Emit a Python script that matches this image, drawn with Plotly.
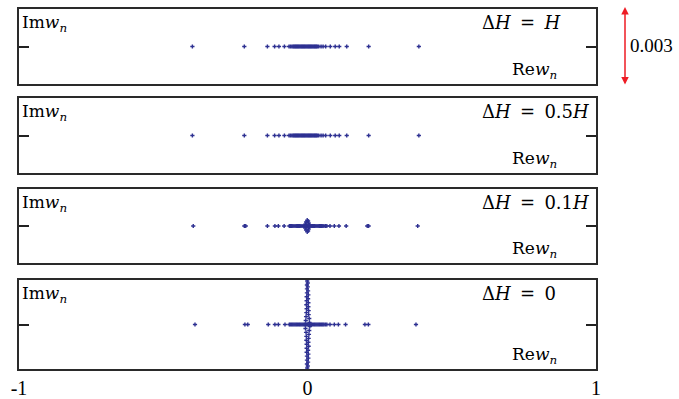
import plotly.graph_objects as go

# ---------------- data ----------------
panel_labels = ["ΔH = H", "ΔH = 0.5H", "ΔH = 0.1H", "ΔH = 0"]
xtick_vals = [-1, 0, 1]
xtick_text = ["-1", "0", "1"]
span_label = "0.003"

# isolated real eigenvalues (Im ~ 0)
re_outer_1 = [-0.399, -0.219, -0.139, -0.114, -0.099, -0.080, -0.064, -0.059, -0.054,
              0.039, 0.047, 0.054, 0.063, 0.079, 0.096, 0.110, 0.136, 0.212, 0.386]
re_outer_2 = [-0.399, -0.219, -0.139, -0.114, -0.099, -0.080, -0.064, -0.059, -0.054,
              0.039, 0.047, 0.054, 0.063, 0.079, 0.096, 0.110, 0.136, 0.212, 0.386]
re_outer_3 = [-0.396, -0.219, -0.214, -0.139, -0.113, -0.101, -0.081,
              0.078, 0.093, 0.109, 0.134, 0.207, 0.212, 0.382]
re_outer_4 = [-0.390, -0.217, -0.207, -0.136, -0.113, -0.101, -0.078,
              0.078, 0.093, 0.107, 0.132, 0.199, 0.211, 0.376]

# dense band near the origin (Im ~ 0)
re_dense_1 = [-0.050, -0.047, -0.044, -0.041, -0.038, -0.035, -0.032, -0.029, -0.026, -0.023,
              -0.020, -0.017, -0.014, -0.011, -0.008, -0.005, -0.002, 0.001, 0.004, 0.007,
              0.010, 0.013, 0.016, 0.019, 0.022, 0.025, 0.028, 0.031, 0.034]
re_dense_2 = [-0.050, -0.047, -0.044, -0.041, -0.038, -0.035, -0.032, -0.029, -0.026, -0.023,
              -0.020, -0.017, -0.014, -0.011, -0.008, -0.005, -0.002, 0.001, 0.004, 0.007,
              0.010, 0.013, 0.016, 0.019, 0.022, 0.025, 0.028, 0.031, 0.034]
re_dense_3 = [-0.063, -0.059, -0.055, -0.051, -0.047, -0.043, -0.039, -0.035, -0.031, -0.027,
              -0.023, -0.019, -0.015, -0.011, -0.007, -0.003, 0.001, 0.005, 0.009, 0.013,
              0.017, 0.021, 0.025, 0.029, 0.033, 0.037, 0.041, 0.045, 0.049, 0.053,
              0.057, 0.062, 0.067]
re_dense_4 = [-0.063, -0.059, -0.055, -0.051, -0.047, -0.043, -0.039, -0.035, -0.031, -0.027,
              -0.023, -0.019, -0.015, -0.011, -0.007, -0.003, 0.001, 0.005, 0.009, 0.013,
              0.017, 0.021, 0.025, 0.029, 0.033, 0.037, 0.041, 0.045, 0.049, 0.053,
              0.057, 0.062, 0.067]

# complex cluster at Re ~ 0 for dH = 0.1H
re_blob_3 = [-0.001, 0.002, -0.005, 0.004, -0.008, 0.006, -0.009, 0.007, -0.007, 0.004,
             -0.005, 0.002, -0.001]
im_blob_3 = [-0.00024, -0.0002, -0.00016, -0.00012, -0.00008, -0.00004, 0.0,
             0.00004, 0.00008, 0.00012, 0.00016, 0.0002, 0.00024]

# vertical cluster at Re ~ 0 for dH = 0
im_line_4 = [-0.00184, -0.00176, -0.00168, -0.0016, -0.00152, -0.00144, -0.00136, -0.00128,
             -0.0012, -0.00112, -0.00104, -0.00096, -0.00088, -0.0008, -0.00072, -0.00064,
             -0.00056, -0.00048, -0.0004, -0.00032, -0.00024, -0.00016, -0.00008, 0.0,
             0.00008, 0.00016, 0.00024, 0.00032, 0.0004, 0.00048, 0.00056, 0.00064,
             0.00072, 0.0008, 0.00088, 0.00096, 0.00104, 0.00112, 0.0012, 0.00128,
             0.00136, 0.00144, 0.00152, 0.0016, 0.00168, 0.00176, 0.00184]
re_line_4 = [0.000, -0.001, 0.001, -0.002, 0.002, -0.002, 0.003, -0.002, 0.003, -0.003,
             0.002, -0.003, 0.004, -0.003, 0.003, -0.004, 0.004, -0.004, 0.005, -0.005,
             0.006, -0.007, 0.008, -0.008, 0.007, -0.006, 0.006, -0.005, 0.004, -0.004,
             0.004, -0.003, 0.003, -0.004, 0.003, -0.003, 0.002, -0.003, 0.003, -0.002,
             0.002, -0.002, 0.001, -0.002, 0.001, -0.001, 0.000]

y_half_range = [0.0015, 0.0015, 0.0015, 0.0018]

# ---------------- figure ----------------
W, H = 679, 399
ML, MR, MT, MB = 19, 83, 9, 30
plot_h = H - MT - MB
pw = W - ML - MR
# panel pixel extents (top, bottom)
panel_px = [(9, 84), (98, 173), (189, 263), (280, 369)]
domains = [[(H - MB - b) / plot_h, (H - MB - t) / plot_h] for (t, b) in panel_px]

DOT = "#2e3192"
FONT = "DejaVu Serif"
NUMFONT = "Liberation Serif"
FS = 17

fig = go.Figure()

panels = [
    (re_outer_1 + re_dense_1, [0.0] * (len(re_outer_1) + len(re_dense_1))),
    (re_outer_2 + re_dense_2, [0.0] * (len(re_outer_2) + len(re_dense_2))),
    (re_outer_3 + re_dense_3 + re_blob_3,
     [0.0] * (len(re_outer_3) + len(re_dense_3)) + im_blob_3),
    (re_outer_4 + re_dense_4 + re_line_4,
     [0.0] * (len(re_outer_4) + len(re_dense_4)) + im_line_4),
]

for i, (xs, ys) in enumerate(panels):
    k = "" if i == 0 else str(i + 1)
    fig.add_trace(go.Scatter(
        x=xs, y=ys, mode="markers", xaxis="x" + k, yaxis="y" + k,
        marker=dict(symbol="cross", size=3.5, color=DOT, line=dict(width=0)),
        showlegend=False, hoverinfo="skip", cliponaxis=True,
    ))

layout = dict(
    width=W, height=H,
    margin=dict(l=ML, r=MR, t=MT, b=MB, autoexpand=False),
    plot_bgcolor="white", paper_bgcolor="white",
    font=dict(family=FONT, size=FS, color="black"),
    showlegend=False,
)

annotations = []
for i in range(4):
    k = "" if i == 0 else str(i + 1)
    xa = dict(
        range=[-1, 1], domain=[0, 1], showgrid=False, zeroline=False,
        showline=True, mirror=True, linecolor="#2a2a2a", linewidth=1.5,
        ticks="", fixedrange=True, automargin=False,
        tickvals=xtick_vals, ticktext=xtick_text,
        showticklabels=(i == 3),
        tickfont=dict(family=NUMFONT, size=20, color="black"),
    )
    if i > 0:
        xa["anchor"] = "y" + k
        xa["matches"] = "x"
    else:
        xa["anchor"] = "y"
    hr = y_half_range[i]
    ya = dict(
        range=[-hr, hr], domain=domains[i], anchor="x" + k,
        showgrid=False, zeroline=False, automargin=False,
        showline=True, mirror="ticks", linecolor="#2a2a2a", linewidth=1.5,
        ticks="inside", ticklen=10, tickwidth=1.5, tickcolor="#222222",
        tickvals=[-hr, 0, hr], showticklabels=False, fixedrange=True,
    )
    layout["xaxis" + k] = xa
    layout["yaxis" + k] = ya

    d0, d1 = domains[i]
    annotations.append(dict(
        text="Im<i>w</i><sub><i>n</i></sub>", xref="paper", yref="paper",
        x=(20 - ML) / pw, y=d1, xanchor="left", yanchor="top", showarrow=False,
        font=dict(family=FONT, size=FS), yshift=-1))
    annotations.append(dict(
        text=panel_labels[i].replace("H", "<i>H</i>").replace(" = ", "\u2009 = \u2009"),
        xref="paper", yref="paper",
        x=(480 - ML) / pw, y=d1, xanchor="left", yanchor="top",
        showarrow=False, font=dict(family=FONT, size=18), yshift=-1))
    annotations.append(dict(
        text="Re<i>w</i><sub><i>n</i></sub>", xref="paper", yref="paper",
        x=(559 - ML) / pw, y=d0, xanchor="right", yanchor="bottom",
        showarrow=False, font=dict(family=FONT, size=FS), yshift=0))

# red double-headed scale arrow spanning the height of one panel
annotations.append(dict(
    text="", xref="paper", yref="paper",
    x=(625 - ML) / pw, y=(H - MB - 7) / plot_h,
    ax=0, ay=79, axref="pixel", ayref="pixel",
    showarrow=True, arrowhead=2, arrowside="end+start",
    arrowsize=1, arrowwidth=1.5, arrowcolor="#ee1c25"))
annotations.append(dict(
    text=span_label, xref="paper", yref="paper",
    x=(628 - ML) / pw, y=(H - MB - 46) / plot_h,
    xanchor="left", yanchor="middle", showarrow=False,
    font=dict(family=NUMFONT, size=19)))

layout["annotations"] = annotations
fig.update_layout(**layout)
fig.write_html("out.html", config={"displayModeBar": False},
               post_script="document.body.style.margin='0';")
